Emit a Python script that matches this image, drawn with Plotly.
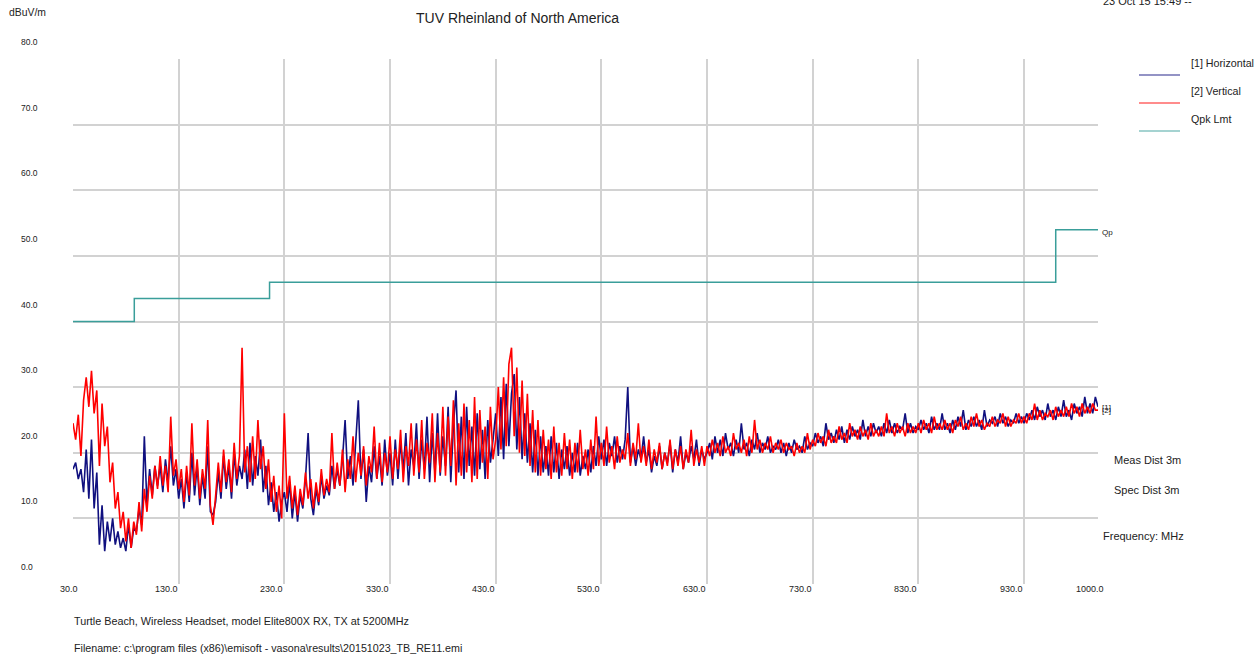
import plotly.graph_objects as go

# ---------------- data ----------------
FREQ_START_MHZ = 30.0
FREQ_STEP_MHZ = 2.5

# [2] Vertical (red), 30 .. 1000 MHz in 2.5 MHz steps
vertical_dbuv = [
    # 30 - 127.5
    24.5, 22.0, 25.8, 19.5, 28.0, 31.5, 27.0, 32.5, 26.0, 29.5,
    18.0, 27.5, 21.0, 24.0, 15.5, 18.5, 11.5, 14.0, 8.5, 11.0,
    6.5, 10.0, 5.5, 9.5, 7.5, 12.5, 8.0, 14.5, 11.0, 16.5,
    13.0, 18.0, 14.5, 19.5, 15.0, 18.0, 14.0, 25.5, 16.5, 19.0,
    # 130 - 227.5
    14.5, 17.5, 12.5, 18.0, 13.5, 24.5, 15.0, 19.0, 13.0, 17.5,
    14.5, 25.0, 12.0, 9.0, 13.5, 18.5, 14.0, 20.5, 15.5, 19.0,
    14.0, 21.5, 16.0, 19.5, 36.0, 17.0, 21.0, 15.5, 22.5, 16.0,
    25.0, 17.5, 21.0, 14.5, 19.0, 12.5, 16.5, 11.0, 15.0, 10.0,
    # 230 - 327.5
    26.0, 13.0, 16.5, 11.5, 15.0, 10.5, 14.5, 12.0, 17.0, 13.0,
    16.0, 11.5, 15.5, 12.5, 17.5, 13.5, 16.0, 14.0, 23.0, 14.5,
    18.5, 15.0, 20.5, 14.0, 19.0, 16.0, 22.5, 15.5, 20.0, 16.5,
    21.0, 15.0, 19.5, 17.0, 24.0, 16.0, 21.5, 15.5, 20.0, 17.0,
    # 330 - 427.5
    22.5, 16.0, 20.5, 17.5, 23.5, 15.5, 21.0, 18.0, 24.5, 16.5,
    22.0, 17.0, 25.0, 16.0, 21.5, 18.5, 26.0, 15.5, 23.0, 17.0,
    27.0, 16.5, 25.5, 18.0, 28.0, 15.0, 24.5, 16.5, 27.5, 17.0,
    25.0, 15.5, 28.5, 16.0, 26.5, 18.5, 24.0, 16.0, 27.0, 19.0,
    # 430 - 527.5
    22.0, 30.0, 20.5, 31.5, 21.0, 33.5, 36.0, 22.5, 33.0, 20.0,
    31.0, 19.5, 29.0, 18.0, 26.5, 17.0, 25.0, 16.5, 23.5, 17.5,
    22.0, 16.0, 24.0, 17.0, 21.5, 16.5, 23.0, 17.5, 22.0, 16.0,
    21.5, 17.0, 23.5, 17.5, 20.5, 16.5, 22.0, 17.5, 25.5, 18.0,
    # 530 - 627.5
    21.5, 18.0, 24.0, 18.5, 21.0, 17.5, 22.5, 18.5, 20.5, 19.0,
    23.0, 18.0, 21.5, 19.0, 24.5, 18.5, 21.0, 18.0, 22.0, 17.5,
    20.5, 18.5, 21.5, 17.5, 20.0, 18.0, 22.0, 17.5, 20.5, 18.0,
    21.0, 17.5, 20.5, 18.5, 23.5, 18.0, 20.5, 18.5, 21.0, 18.0,
    # 630 - 727.5
    21.0, 19.5, 22.0, 20.0, 21.5, 19.5, 22.5, 20.0, 21.0, 19.5,
    23.0, 20.5, 21.5, 20.0, 22.0, 19.5, 22.5, 20.0, 25.0, 20.5,
    22.0, 20.0, 21.5, 20.5, 22.5, 20.0, 21.5, 20.5, 22.0, 20.0,
    21.5, 20.5, 21.0, 19.5, 21.5, 20.0, 21.0, 20.0, 23.0, 20.5,
    # 730 - 827.5
    22.0, 21.0, 23.0, 21.5, 22.5, 21.0, 23.5, 21.5, 22.5, 21.5,
    24.0, 22.0, 23.0, 21.5, 24.5, 22.5, 23.5, 22.0, 24.0, 22.5,
    23.5, 22.0, 24.5, 22.5, 23.5, 22.5, 24.0, 22.5, 26.0, 23.0,
    24.0, 22.5, 24.5, 23.0, 24.0, 22.5, 24.5, 23.0, 24.0, 23.0,
    # 830 - 927.5
    24.5, 23.0, 25.0, 23.5, 24.5, 23.0, 25.5, 23.5, 24.5, 23.5,
    25.0, 23.5, 24.5, 23.0, 25.0, 24.0, 25.5, 23.5, 24.5, 23.5,
    25.5, 24.0, 26.0, 24.0, 25.0, 23.5, 24.5, 24.0, 25.5, 24.0,
    25.0, 24.5, 26.0, 24.0, 25.5, 24.0, 25.0, 24.5, 26.0, 24.5,
    # 930 - 1000
    25.5, 24.5, 26.0, 25.0, 27.5, 25.0, 26.5, 25.0, 26.0, 25.5,
    26.5, 25.0, 27.0, 25.5, 26.5, 25.5, 27.0, 25.5, 27.5, 26.0,
    27.0, 25.5, 27.5, 26.0, 27.0, 26.0, 27.5, 26.5, 26.5,
]

# [1] Horizontal (navy), same frequency grid
horizontal_dbuv = [
    # 30 - 127.5
    17.5, 18.5, 16.0, 17.5, 14.0, 20.5, 13.0, 22.0, 11.5, 17.0,
    6.0, 12.0, 5.0, 9.5, 6.5, 10.0, 6.0, 8.0, 5.5, 7.0,
    5.0, 9.0, 5.5, 8.5, 8.0, 11.5, 9.0, 22.5, 12.0, 17.5,
    13.5, 18.0, 15.0, 18.0, 14.0, 19.0, 15.5, 21.0, 15.0, 17.5,
    # 130 - 227.5
    13.0, 16.0, 11.5, 17.0, 12.5, 20.0, 13.5, 18.0, 12.0, 16.5,
    13.0, 21.0, 11.0, 10.5, 12.5, 17.0, 13.0, 19.5, 14.5, 18.0,
    13.0, 20.0, 15.0, 18.0, 16.0, 20.5, 14.5, 21.5, 15.0, 19.5,
    16.5, 22.0, 14.0, 18.0, 12.0, 15.5, 11.0, 14.0, 9.5, 12.5,
    # 230 - 327.5
    14.0, 11.0, 15.5, 10.0, 14.0, 9.5, 13.5, 11.5, 16.0, 23.0,
    13.0, 10.5, 14.5, 12.0, 16.5, 13.0, 15.0, 13.5, 18.0, 14.5,
    17.5, 15.0, 19.0, 25.0, 16.0, 19.5, 15.0, 21.0, 28.0, 16.0,
    20.5, 12.5, 18.0, 15.5, 21.0, 16.0, 19.5, 15.0, 22.0, 16.5,
    # 330 - 427.5
    20.0, 15.0, 22.0, 16.0, 21.5, 17.5, 23.0, 15.0, 20.5, 18.0,
    24.5, 16.0, 22.0, 17.5, 25.5, 15.5, 23.0, 17.0, 26.0, 16.5,
    22.5, 18.0, 27.0, 15.5, 24.0, 29.5, 17.0, 25.5, 16.0, 27.0,
    18.0, 24.0, 16.5, 26.0, 17.5, 23.5, 16.0, 25.0, 18.5, 22.0,
    # 430 - 527.5
    26.0, 19.5, 28.5, 19.0, 30.5, 21.0, 29.0, 32.0, 20.5, 28.5,
    19.0, 26.0, 18.5, 24.5, 17.0, 23.5, 16.5, 22.5, 17.0, 21.0,
    16.5, 22.5, 17.0, 21.5, 16.0, 20.5, 17.5, 21.0, 16.5, 20.0,
    17.0, 21.5, 16.5, 19.5, 17.5, 20.5, 17.0, 21.0, 18.0, 22.5,
    # 530 - 627.5
    19.0, 22.0, 18.0, 21.5, 19.5, 22.5, 18.5, 21.0, 19.0, 22.0,
    30.0, 18.5, 21.0, 18.0, 20.5, 19.0, 22.5, 18.5, 20.5, 17.0,
    19.5, 18.0, 21.0, 17.5, 20.0, 18.5, 21.5, 17.0, 20.5, 18.5,
    22.5, 17.5, 20.0, 18.5, 21.0, 19.0, 22.0, 18.0, 20.5, 19.0,
    # 630 - 727.5
    20.0, 21.5, 19.0, 22.5, 20.0, 22.0, 19.5, 23.0, 20.5, 21.5,
    19.5, 22.0, 20.0, 24.5, 20.5, 21.5, 19.5, 22.0, 20.5, 23.0,
    20.0, 21.5, 20.5, 22.5, 20.0, 21.0, 20.5, 22.0, 20.0, 21.5,
    19.5, 21.5, 20.0, 22.0, 20.5, 21.0, 20.0, 22.5, 20.5, 21.5,
    # 730 - 827.5
    21.0, 23.0, 21.5, 22.5, 21.0, 24.5, 22.0, 23.0, 21.5, 23.5,
    22.0, 24.0, 21.5, 23.5, 22.0, 24.0, 22.5, 23.5, 22.0, 25.0,
    22.5, 24.0, 22.5, 24.5, 23.0, 24.0, 22.5, 24.5, 23.0, 25.0,
    23.0, 24.5, 23.0, 24.0, 23.5, 26.0, 23.0, 24.5, 23.0, 24.0,
    # 830 - 927.5
    23.5, 25.0, 23.5, 24.5, 23.0, 25.5, 23.5, 24.5, 23.5, 26.0,
    23.5, 24.5, 23.0, 25.0, 23.5, 25.5, 24.0, 26.5, 23.5, 25.0,
    24.0, 25.5, 24.0, 25.0, 23.5, 26.5, 24.0, 25.0, 24.5, 25.5,
    24.0, 26.0, 24.5, 25.5, 24.0, 25.0, 24.5, 26.0, 24.5, 25.5,
    # 930 - 1000
    24.5, 26.0, 25.0, 26.5, 25.0, 27.0, 25.5, 26.5, 25.0, 27.5,
    25.5, 26.5, 25.0, 27.0, 25.5, 28.0, 25.5, 26.5, 25.0, 27.5,
    26.0, 27.0, 25.5, 28.5, 26.0, 27.5, 26.0, 28.5, 27.0,
]

# Quasi-peak limit (FCC class B, 3 m): band edges (MHz) and levels (dBuV/m)
limit_freq_mhz = [30, 88, 88, 216, 216, 960, 960, 1000]
limit_dbuv = [40.0, 40.0, 43.5, 43.5, 46.0, 46.0, 54.0, 54.0]

x_tick_vals = [30, 130, 230, 330, 430, 530, 630, 730, 830, 930, 1000]
x_tick_text = ["30.0", "130.0", "230.0", "330.0", "430.0", "530.0",
               "630.0", "730.0", "830.0", "930.0", "1000.0"]
y_tick_vals = [0, 10, 20, 30, 40, 50, 60, 70, 80]
y_tick_text = ["0.0", "10.0", "20.0", "30.0", "40.0", "50.0", "60.0", "70.0", "80.0"]

title_text = "TUV Rheinland of North America"
unit_text = "dBuV/m"
date_text = "23 Oct 15 15:49 --"
desc_text = "Turtle Beach, Wireless Headset, model Elite800X RX, TX at 5200MHz"
file_text = "Filename: c:\\program files (x86)\\emisoft - vasona\\results\\20151023_TB_RE11.emi"

# ---------------- figure ----------------
W, H = 1260, 655
L, R, T, B = 73, 1098, 59, 584
PW, PH = R - L, B - T


def px(xp):
    return (xp - L) / PW


def py(yp):
    return (B - yp) / PH


freq_h = [FREQ_START_MHZ + FREQ_STEP_MHZ * i for i in range(len(horizontal_dbuv))]
freq_v = [FREQ_START_MHZ + FREQ_STEP_MHZ * i for i in range(len(vertical_dbuv))]

NAVY = "#10107f"
RED = "#ff0000"
TEAL = "#3a9e9a"
GRID = "#d2d2d2"
TXT = "#222222"
FONT = "Liberation Sans, Arial, sans-serif"

fig = go.Figure()
fig.add_trace(go.Scatter(x=freq_h, y=horizontal_dbuv, mode="lines",
                         line=dict(color=NAVY, width=1.6), name="[1] Horizontal",
                         showlegend=False))
fig.add_trace(go.Scatter(x=freq_v, y=vertical_dbuv, mode="lines",
                         line=dict(color=RED, width=1.6), name="[2] Vertical",
                         showlegend=False))
fig.add_trace(go.Scatter(x=limit_freq_mhz, y=limit_dbuv, mode="lines",
                         line=dict(color=TEAL, width=1.5), name="Qpk Lmt",
                         showlegend=False))

annotations = []


def add_text(text, xp, yp, size=9, xanchor="left", yanchor="middle", color=TXT):
    annotations.append(dict(text=text, xref="paper", yref="paper", x=px(xp), y=py(yp),
                            xanchor=xanchor, yanchor=yanchor, showarrow=False,
                            font=dict(family=FONT, size=size, color=color)))


add_text(title_text, 517, 18, size=14, xanchor="center")
add_text(unit_text, 7, 13, size=10.4)
add_text(date_text, 1101, 1, size=11)

# y tick labels (drawn above their gridlines, as in the original)
for v, t in zip(y_tick_vals, y_tick_text):
    annotations.append(dict(text=t, xref="paper", yref="y", x=px(19), y=v, yshift=17,
                            xanchor="left", yanchor="middle", showarrow=False,
                            font=dict(family=FONT, size=8.5, color=TXT)))

# x tick labels: right-aligned on their gridline, end labels slightly offset
for v, t in zip(x_tick_vals, x_tick_text):
    if v == x_tick_vals[0]:
        xa, sh = "right", 7
    elif v == x_tick_vals[-1]:
        xa, sh = "right", 8
    else:
        xa, sh = "right", 1
    annotations.append(dict(text=t, xref="x", yref="paper", x=v, y=py(589), xshift=sh,
                            xanchor=xa, yanchor="middle", showarrow=False,
                            font=dict(family=FONT, size=9, color=TXT)))

# legend
legend_items = [("[1] Horizontal", NAVY, 63, 75), ("[2] Vertical", RED, 91, 103),
                ("Qpk Lmt", TEAL, 119, 131)]
shapes = []
for name, col, ty, ly in legend_items:
    add_text(name, 1189, ty, size=10.7)
    shapes.append(dict(type="line", xref="paper", yref="paper", x0=px(1139), x1=px(1180),
                       y0=py(ly), y1=py(ly), line=dict(color=col, width=1.5), opacity=0.6))

# trace end labels
annotations.append(dict(text="Qp", xref="paper", yref="y", x=px(1100), y=limit_dbuv[-1],
                        yshift=-3, xanchor="left", yanchor="middle", showarrow=False,
                        font=dict(family=FONT, size=8, color=TXT)))
annotations.append(dict(text="[1]", xref="paper", yref="y", x=px(1100), y=horizontal_dbuv[-1],
                        yshift=-1, xanchor="left", yanchor="middle", showarrow=False,
                        font=dict(family=FONT, size=8, color=TXT)))
annotations.append(dict(text="[2]", xref="paper", yref="y", x=px(1100), y=vertical_dbuv[-1],
                        xanchor="left", yanchor="middle", showarrow=False,
                        font=dict(family=FONT, size=8, color=TXT)))

add_text("Meas Dist 3m", 1112, 460, size=11)
add_text("Spec Dist 3m", 1112, 490, size=11)
add_text("Frequency: MHz", 1101, 536, size=11)
add_text(desc_text, 72, 621, size=10.8)
add_text(file_text, 72, 648, size=10.7)

fig.update_layout(
    width=W, height=H,
    margin=dict(l=L, r=W - R, t=T, b=H - B, pad=0),
    paper_bgcolor="white", plot_bgcolor="white",
    showlegend=False,
    annotations=annotations,
    shapes=shapes,
    font=dict(family=FONT, size=8, color=TXT),
)
fig.update_xaxes(range=[30, 1000], tickvals=x_tick_vals, showticklabels=False,
                 showgrid=True, gridcolor=GRID, gridwidth=2, zeroline=False,
                 showline=False, ticks="")
fig.update_yaxes(range=[0, 80], tickvals=y_tick_vals, showticklabels=False,
                 showgrid=True, gridcolor=GRID, gridwidth=2, zeroline=False,
                 showline=False, ticks="")

fig.write_html("out.html", config={"displayModeBar": False},
               post_script="document.body.style.margin='0';")
